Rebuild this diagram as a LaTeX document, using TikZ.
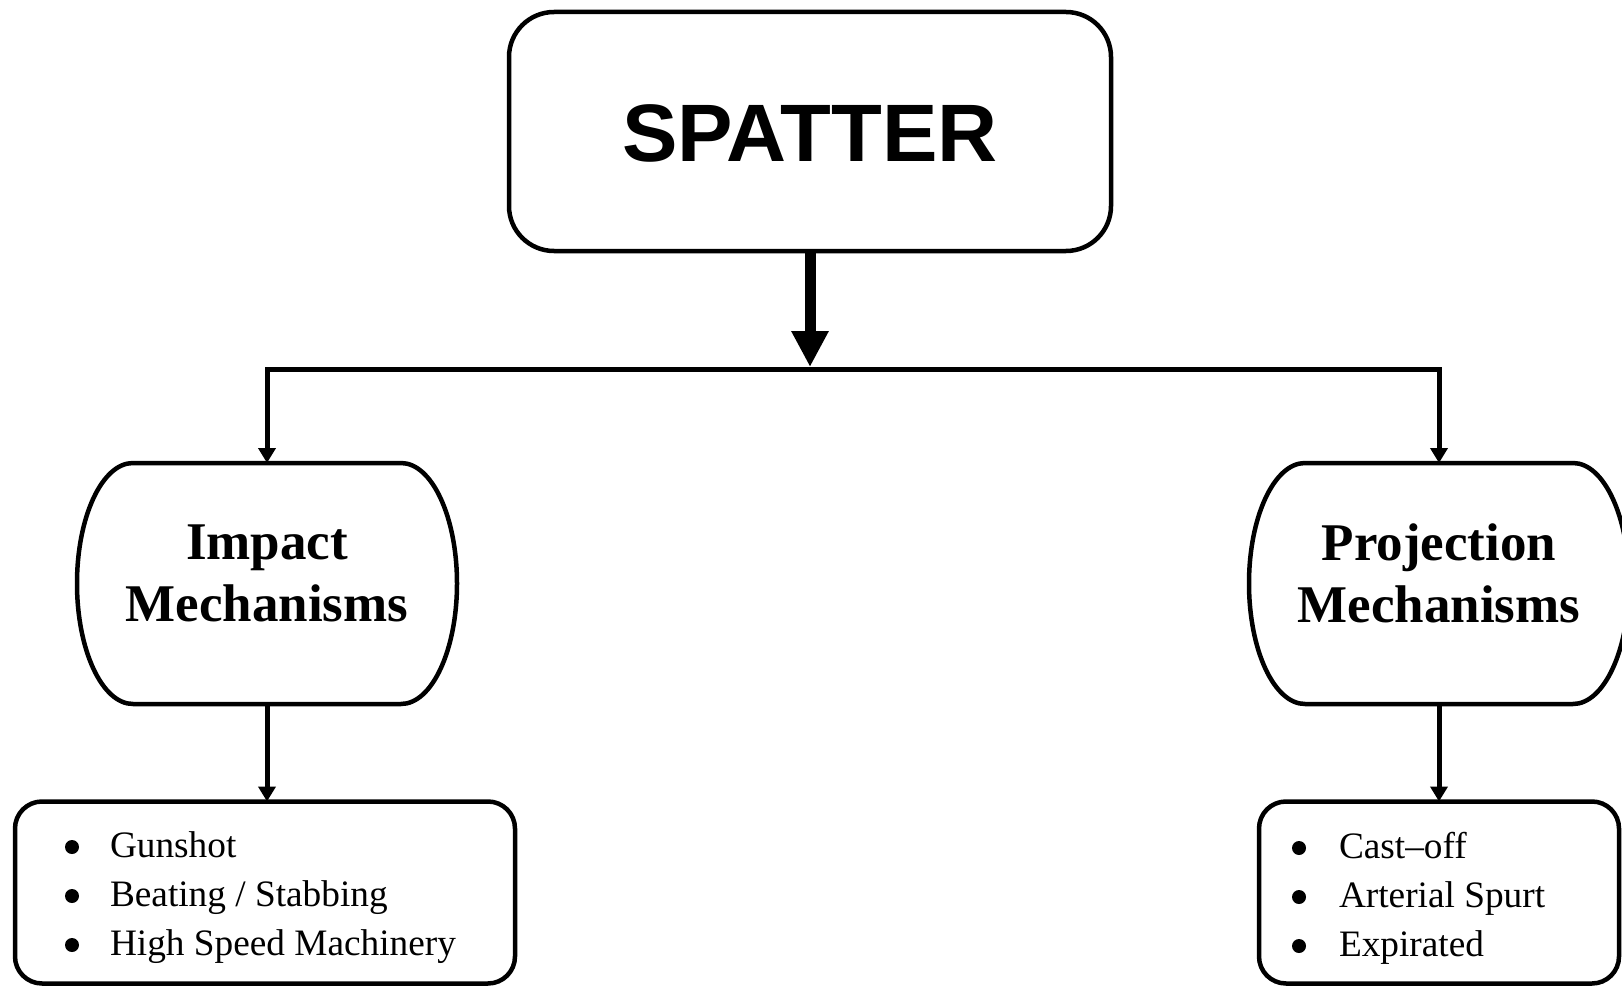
\documentclass[tikz,border=0pt]{standalone}
\usepackage{fontspec}
\setmainfont{Liberation Serif}
\newfontfamily\spsans[FakeStretch=1.02]{Liberation Sans}
\usetikzlibrary{arrows.meta}
\begin{document}
\begin{tikzpicture}[x=1pt,y=-1pt,
  line width=4.5pt,
  every node/.style={outer sep=0pt},
  topbox/.style={draw, rounded corners=45pt, minimum width=602pt, minimum height=239pt, inner sep=0pt,
    font=\spsans\bfseries\fontsize{81.5}{96}\selectfont, text height=61.4pt, text depth=1pt},
  midbox/.style={inner sep=0pt, minimum width=380pt, minimum height=241pt, align=center,
    font=\bfseries\fontsize{53}{62}\selectfont, text depth=20pt},
  midshape/.style={line width=4.5pt},
  listbox/.style={draw, rounded corners=27pt, inner sep=0pt},
  itemtext/.style={anchor=base west, inner sep=0pt, font=\fontsize{37.3}{46}\selectfont},
  bulletmark/.style={circle, fill, draw=none, inner sep=0pt, minimum size=14pt},
  smallarrow/.style={line width=5pt, -{Triangle[length=15pt,width=17pt]}},
  bigarrow/.style={line width=11pt, -{Triangle[length=36pt,width=35pt]}},
]
\useasboundingbox (0,0) rectangle (1622,987);

% top box
\node[topbox] (spatter) at (810,131.5) {SPATTER};

% middle nodes
\node[midbox] (imp) at (267,583.5) {Impact\\Mechanisms};
\node[midbox] (proj) at (1439,583.5) {Projection\\Mechanisms};
\foreach \n in {imp,proj}{
  \draw[midshape] ([xshift=56pt]\n.north west) -- ([xshift=-56pt]\n.north east)
    arc[start angle=90, end angle=-90, x radius=56pt, y radius=120.5pt]
    -- ([xshift=56pt]\n.south west)
    arc[start angle=270, end angle=90, x radius=56pt, y radius=120.5pt] -- cycle;
}

% bottom boxes
\node[listbox, minimum width=500pt, minimum height=182pt] (implist) at (265,892.5) {};
\node[listbox, minimum width=360pt, minimum height=182pt] (projlist) at (1439,892.5) {};

% list items, left
\node[bulletmark] (b1) at (72,847) {};
\node[bulletmark] (b2) at (72,896) {};
\node[bulletmark] (b3) at (72,945) {};
\node[itemtext] (t1) at (110,857) {Gunshot};
\node[itemtext] (t2) at (110,906) {Beating / Stabbing};
\node[itemtext] (t3) at (110,955) {High Speed Machinery};

% list items, right
\node[bulletmark] (b4) at (1299,848) {};
\node[bulletmark] (b5) at (1299,897) {};
\node[bulletmark] (b6) at (1299,946) {};
\node[itemtext] (t4) at (1339,858) {Cast--off};
\node[itemtext] (t5) at (1339,907) {Arterial Spurt};
\node[itemtext] (t6) at (1339,956) {Expirated};

% connectors
\coordinate (hub) at (810,369.5);
\draw[bigarrow] (spatter.south) -- (810,367);
\draw[smallarrow] (hub) -| (imp.north);
\draw[smallarrow] (hub) -| (proj.north);
\draw[smallarrow] (imp.south) -- (imp.south |- implist.north);
\draw[smallarrow] (proj.south) -- (proj.south |- projlist.north);
\end{tikzpicture}
\end{document}
